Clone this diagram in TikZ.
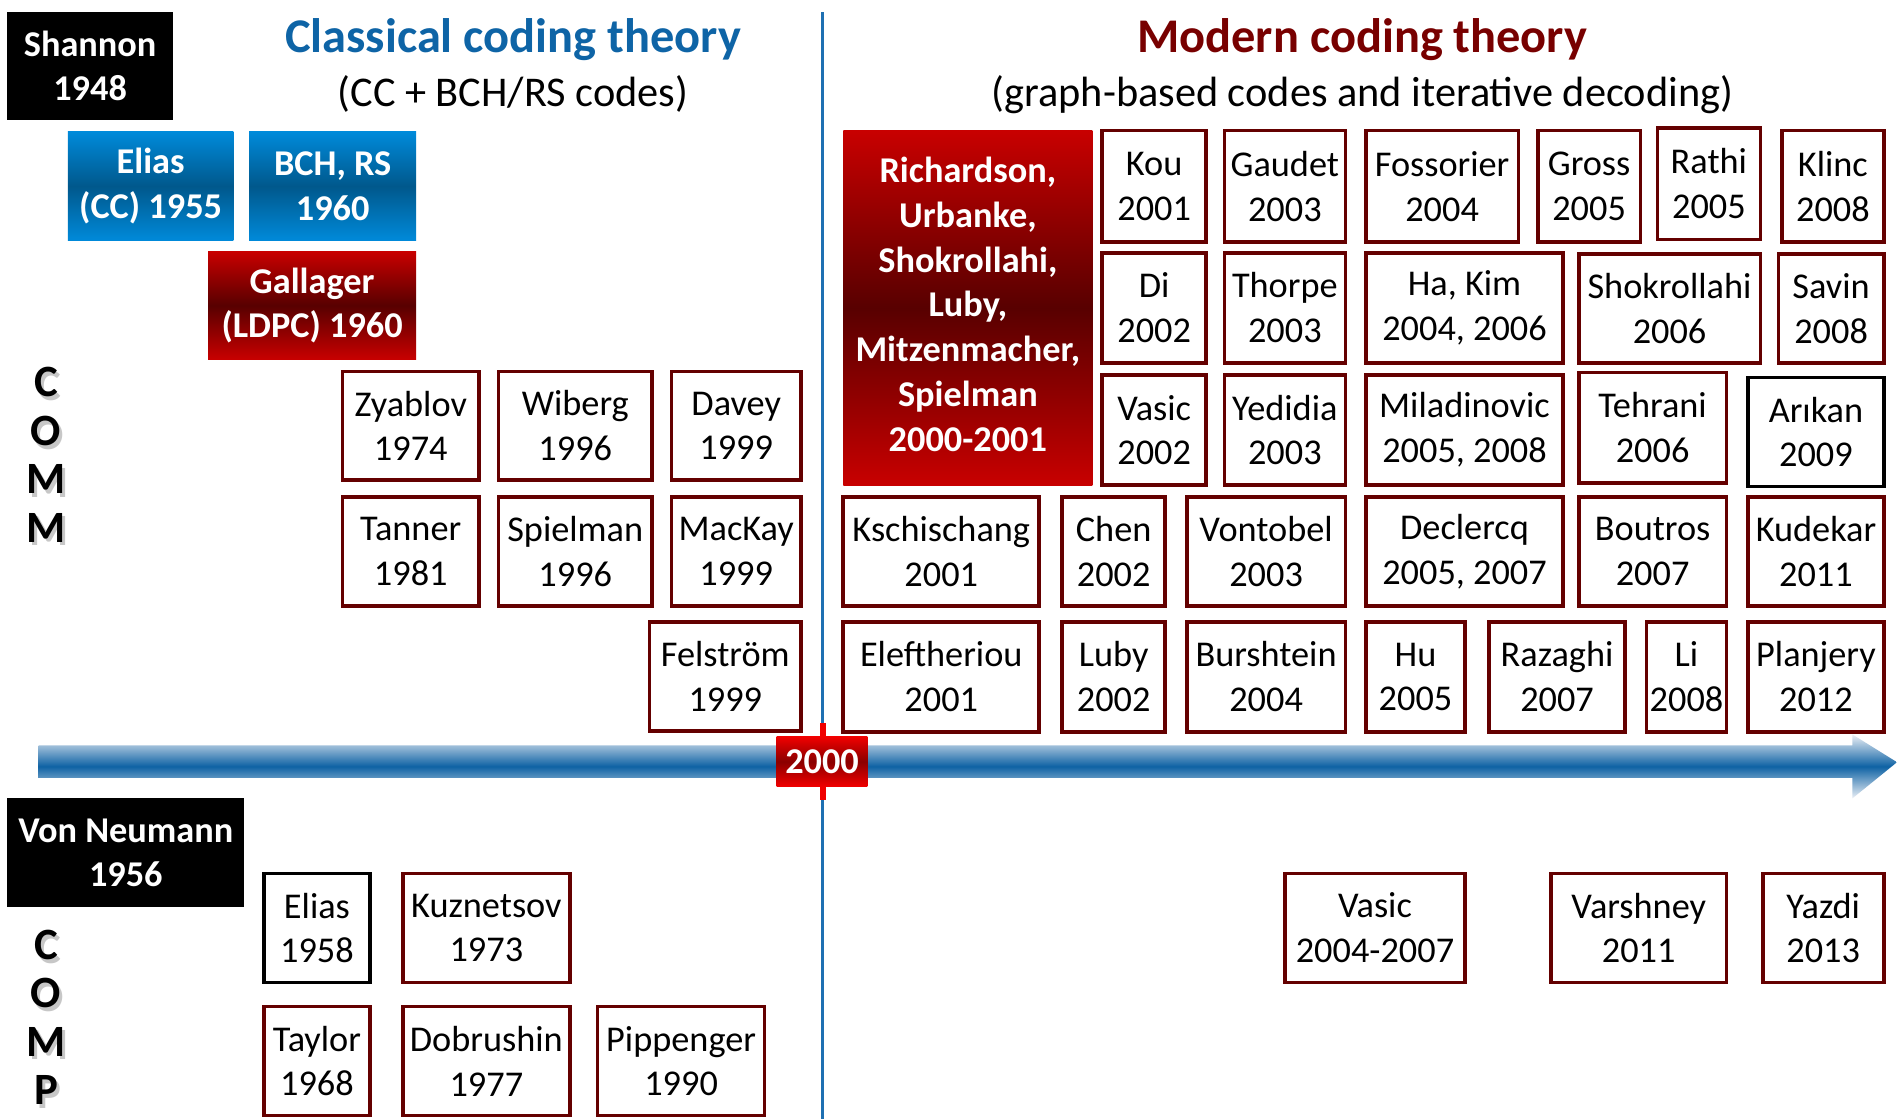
\documentclass[tikz,border=0pt]{standalone}
\usepackage{fontspec}
\setmainfont{Carlito}
\definecolor{boxred}{RGB}{100,0,0}
\definecolor{titleblue}{RGB}{14,100,166}
\definecolor{titlered}{RGB}{120,0,0}
\definecolor{vline}{RGB}{30,112,178}
\definecolor{gblue}{RGB}{0,138,218}
\definecolor{gbluedark}{RGB}{0,88,140}
\definecolor{gred}{RGB}{200,0,0}
\definecolor{greddark}{RGB}{88,0,0}
\definecolor{arrowmid}{RGB}{14,98,164}
\definecolor{arrowedge}{RGB}{236,240,246}
\definecolor{tickred}{RGB}{240,0,0}
\newcommand\mybox[7]{\node[#7, minimum width={(#4)-(#2)}, minimum height={(#5)-(#3)}] (#1) at ({((#2)+(#4))/2},{((#3)+(#5))/2}) {#6};}
\tikzset{
  txt/.style={font=\fontsize{30}{37}\selectfont, align=center, inner sep=0pt},
  rbox/.style={txt, draw=boxred, line width=3pt, fill=white},
  kbox/.style={txt, draw=black, line width=3pt, fill=white},
  blackbox/.style={txt, fill=black, text=white, font=\fontsize{30}{37}\selectfont\bfseries},
  bluegrad/.style={txt, top color=gblue, bottom color=gblue, middle color=gbluedark, text=white, font=\fontsize{30}{37}\selectfont\bfseries},
  redgrad/.style={txt, top color=gred, bottom color=gred, middle color=greddark, text=white, font=\fontsize{30}{37}\selectfont\bfseries},
  vletters/.style={font=\fontsize{37}{40}\selectfont\bfseries, align=center, inner sep=0pt},
}
\begin{document}
\begin{tikzpicture}[x=1pt,y=-1pt]
\useasboundingbox (0,0) rectangle (1568,925);
\fill[white] (0,0) rectangle (1568,925);
% vertical divider
\coordinate (vtop) at (680,10);
\coordinate (vbot) at (680,925);
\draw[vline, line width=2.5pt] (vtop) -- (vbot);
% titles
\node[font=\fontsize{40}{48}\selectfont\bfseries, text=titleblue, inner sep=0pt] (ctitle) at (424,33) {Classical coding theory};
\node[font=\fontsize{35}{40}\selectfont, inner sep=0pt] (csub) at (424,78) {(CC + BCH/RS codes)};
\node[font=\fontsize{40}{48}\selectfont\bfseries, text=titlered, inner sep=0pt] (mtitle) at (1126,33) {Modern coding theory};
\node[font=\fontsize{35}{40}\selectfont, inner sep=0pt] (msub) at (1126,78) {(graph-based codes and iterative decoding)};
% timeline arrow
\shade[top color=arrowedge, bottom color=arrowedge, middle color=arrowmid]
  (32,616) -- (1531,616) -- (1531,607) -- (1568,630) -- (1531,660) -- (1531,643) -- (32,643) -- cycle;
\coordinate (ttop) at (680,598);
\coordinate (tbot) at (680,661);
\draw[tickred, line width=5pt] (ttop) -- (tbot);
\mybox{y2000}{642}{609}{717}{650}{2000}{txt, top color=tickred, bottom color=tickred, middle color=greddark!70!red, text=white, font=\fontsize{30}{37}\selectfont\bfseries}
% left black boxes
\mybox{shannon}{6}{10}{143}{99}{Shannon\\1948}{blackbox}
\mybox{neumann}{6}{660}{202}{750}{Von Neumann\\1956}{blackbox}
% classical gradient boxes
\mybox{eliascc}{56}{109}{193}{199}{Elias\\(CC) 1955}{bluegrad}
\mybox{bch}{206}{109}{344}{199}{BCH, RS\\1960}{bluegrad}
\mybox{gallager}{172}{208}{344}{297}{Gallager\\(LDPC) 1960}{redgrad}
% COMM / COMP labels
\node[vletters, text=black!22] (commsh) at (40.5,379) {C\\O\\M\\M};
\node[vletters] (comm) at (38,376) {C\\O\\M\\M};
\node[vletters, text=black!22] (compsh) at (40.5,844) {C\\O\\M\\P};
\node[vletters] (comp) at (38,841) {C\\O\\M\\P};
% classical COMM boxes
\mybox{zyablov}{283}{307}{396}{397}{Zyablov\\1974}{rbox}
\mybox{wiberg}{412}{307}{539}{397}{Wiberg\\1996}{rbox}
\mybox{davey}{555}{307}{662}{397}{Davey\\1999}{rbox}
\mybox{tanner}{283}{411}{396}{501}{Tanner\\1981}{rbox}
\mybox{spielman}{412}{411}{539}{501}{Spielman\\1996}{rbox}
\mybox{mackay}{555}{411}{662}{501}{MacKay\\1999}{rbox}
\mybox{felstrom}{537}{514}{662}{604}{Felström\\1999}{rbox}
% COMP boxes
\mybox{elias58}{218}{722}{306}{812}{Elias\\1958}{kbox}
\mybox{kuznetsov}{333}{722}{471}{812}{Kuznetsov\\1973}{rbox}
\mybox{taylor}{218}{832}{306}{922}{Taylor\\1968}{rbox}
\mybox{dobrushin}{333}{832}{471}{922}{Dobrushin\\1977}{rbox}
\mybox{pippenger}{494}{832}{632}{922}{Pippenger\\1990}{rbox}
\mybox{vasiccomp}{1062}{722}{1211}{812}{Vasic\\2004-2007}{rbox}
\mybox{varshney}{1282}{722}{1427}{812}{Varshney\\2011}{rbox}
\mybox{yazdi}{1457}{722}{1557}{812}{Yazdi\\2013}{rbox}
% modern: big box
\mybox{richardson}{697}{108}{903}{401}{\vspace*{-6pt}Richardson,\\Urbanke,\\Shokrollahi,\\Luby,\\Mitzenmacher,\\Spielman\\2000-2001\vspace*{6pt}}{redgrad}
% row 1
\mybox{kou}{911}{108}{997}{200}{Kou\\2001}{rbox}
\mybox{gaudet}{1012}{108}{1112}{200}{Gaudet\\2003}{rbox}
\mybox{fossorier}{1129}{108}{1255}{200}{Fossorier\\2004}{rbox}
\mybox{gross}{1271}{108}{1356}{200}{Gross\\2005}{rbox}
\mybox{rathi}{1370}{106}{1455}{198}{Rathi\\2005}{rbox}
\mybox{klinc}{1473}{108}{1557}{200}{Klinc\\2008}{rbox}
% row 2
\mybox{di}{911}{209}{997}{300}{Di\\2002}{rbox}
\mybox{thorpe}{1012}{209}{1112}{300}{Thorpe\\2003}{rbox}
\mybox{hakim}{1129}{209}{1292}{300}{Ha, Kim\\2004, 2006}{rbox}
\mybox{shokrollahi}{1305}{210}{1455}{300}{Shokrollahi\\2006}{rbox}
\mybox{savin}{1470}{210}{1557}{300}{Savin\\2008}{rbox}
% row 3
\mybox{vasic}{911}{310}{997}{401}{Vasic\\2002}{rbox}
\mybox{yedidia}{1012}{310}{1112}{401}{Yedidia\\2003}{rbox}
\mybox{miladinovic}{1129}{310}{1292}{401}{Miladinovic\\2005, 2008}{rbox}
\mybox{tehrani}{1305}{308}{1427}{399}{Tehrani\\2006}{rbox}
\mybox{arikan}{1445}{312}{1557}{402}{Arıkan\\2009}{kbox}
% row 4
\mybox{kschischang}{697}{411}{859}{501}{Kschischang\\2001}{rbox}
\mybox{chen}{878}{411}{963}{501}{Chen\\2002}{rbox}
\mybox{vontobel}{981}{411}{1112}{501}{Vontobel\\2003}{rbox}
\mybox{declercq}{1129}{411}{1292}{501}{Declercq\\2005, 2007}{rbox}
\mybox{boutros}{1305}{411}{1427}{501}{Boutros\\2007}{rbox}
\mybox{kudekar}{1445}{411}{1557}{501}{Kudekar\\2011}{rbox}
% row 5
\mybox{eleftheriou}{697}{514}{859}{605}{Eleftheriou\\2001}{rbox}
\mybox{luby}{878}{514}{963}{605}{Luby\\2002}{rbox}
\mybox{burshtein}{981}{514}{1112}{605}{Burshtein\\2004}{rbox}
\mybox{hu}{1129}{514}{1211}{605}{Hu\\2005}{rbox}
\mybox{razaghi}{1231}{514}{1343}{605}{Razaghi\\2007}{rbox}
\mybox{li}{1361}{514}{1427}{605}{Li\\2008}{rbox}
\mybox{planjery}{1445}{514}{1557}{605}{Planjery\\2012}{rbox}
\end{tikzpicture}
\end{document}
